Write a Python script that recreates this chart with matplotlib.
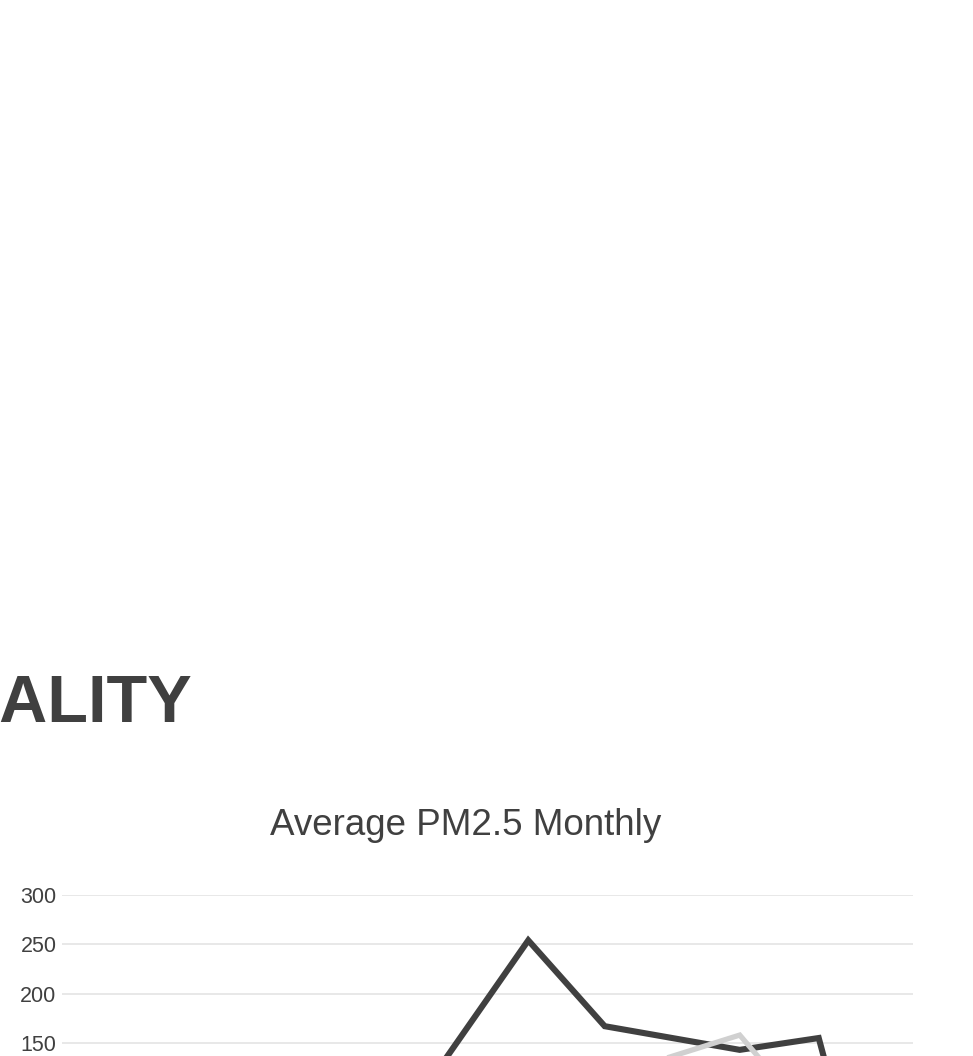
"""Average PM2.5 monthly line chart (cropped view as in the reference)."""

import matplotlib.pyplot as plt

plt.rcParams["font.family"] = ["Liberation Sans", "DejaVu Sans"]

# observation day-of-year for each point, and PM2.5 values
dark_days = [140, 183, 213, 266, 297, 310]
dark_pm25 = [95, 254, 167, 143, 155, 30]

light_days = [183, 213, 266, 297]
light_pm25 = [100, 115, 158, 64]

y_ticks = [150, 200, 250, 300]

DARK = "#404040"
LIGHT = "#d0d0d0"
GRID = "#e6e6e6"

fig = plt.figure(figsize=(9.73, 10.56), dpi=100)

fig.text(0.197, 1 - 722 / 1056, "AIR QUALITY", ha="right", va="baseline",
         fontsize=48, fontweight="bold", color=DARK)
fig.text(466 / 973, 1 - 835 / 1056, "Average PM2.5 Monthly", ha="center",
         va="baseline", fontsize=26.5, color=DARK)

ax = fig.add_axes([62 / 973, -0.1278, 851 / 973, 0.2803])
ax.plot(dark_days, dark_pm25, color=DARK, linewidth=4.4, solid_joinstyle="miter", zorder=3)
ax.plot(light_days, light_pm25, color=LIGHT, linewidth=3.8, solid_joinstyle="miter", zorder=4)

ax.set_xlim(0, 334)
ax.set_ylim(0, 300)
ax.set_yticks(y_ticks)
ax.set_xticks([])
ax.grid(axis="y", color=GRID, linewidth=1.3)
ax.set_axisbelow(True)
ax.tick_params(axis="y", length=0, pad=4, labelsize=15.5, labelcolor=DARK)
for s in ax.spines.values():
    s.set_visible(False)

fig.savefig("out.png", dpi=100)
